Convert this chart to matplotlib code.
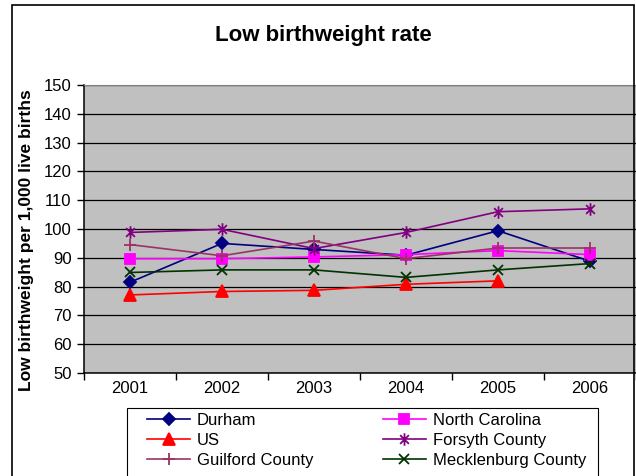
import matplotlib
matplotlib.use("Agg")
import matplotlib.pyplot as plt
from matplotlib.path import Path
from matplotlib.patches import Rectangle

plt.rcParams['font.family'] = ['Liberation Sans', 'DejaVu Sans']

# データ
years = ["2001", "2002", "2003", "2004", "2005", "2006"]
durham = [81.5, 95.0, 92.9, 90.9, 99.4, 88.8]
north_carolina = [89.7, 89.7, 90.3, 91.1, 92.5, 91.1]
us = [77.1, 78.3, 78.7, 80.8, 82.0, None]
forsyth = [98.8, 99.9, 93.2, 98.8, 106.0, 107.0]
guilford = [94.6, 90.7, 95.8, 89.7, 93.4, 93.4]
mecklenburg = [84.9, 85.8, 85.8, 83.2, 85.8, 88.0]
y_ticks = list(range(50, 151, 10))

# Excel風のアスタリスク(×+縦線)
star = Path([(0, -1), (0, 1), (-0.7, -0.7), (0.7, 0.7), (-0.7, 0.7), (0.7, -0.7)],
            [Path.MOVETO, Path.LINETO] * 3)

series = [
    ("Durham", durham, "#000080", "D", 6),
    ("North Carolina", north_carolina, "#FF00FF", "s", 6.5),
    ("US", us, "#FF0000", "^", 8),
    ("Forsyth County", forsyth, "#800080", star, 9),
    ("Guilford County", guilford, "#993366", "+", 9),
    ("Mecklenburg County", mecklenburg, "#003300", "x", 7),
]

fig = plt.figure(figsize=(6.36, 4.76), dpi=100)
ax = fig.add_axes([84 / 636, 1 - 373 / 476, 552 / 636, 288 / 476])
ax.set_facecolor("#C0C0C0")

x = list(range(len(years)))
for name, vals, color, marker, ms in series:
    xs = [xi for xi, v in zip(x, vals) if v is not None]
    ys = [v for v in vals if v is not None]
    ax.plot(xs, ys, color=color, linewidth=1.2, marker=marker, markersize=ms,
            markeredgewidth=1.3, markerfacecolor=color, markeredgecolor=color,
            label=name, zorder=3)

ax.set_ylim(50, 150)
ax.set_yticks(y_ticks)
ax.set_xlim(-0.5, len(years) - 0.5)
ax.set_xticks([i - 0.5 for i in range(len(years) + 1)])
ax.set_xticklabels([])
ax.set_xticks(x, minor=True)
ax.set_xticklabels(years, minor=True, fontsize=12)
ax.tick_params(axis="x", which="major", direction="out", length=5, width=1)
ax.tick_params(axis="x", which="minor", length=0, pad=6)
ax.tick_params(axis="y", direction="out", length=5, width=1, labelsize=12, pad=4)

ax.grid(True, axis="y", color="black", linewidth=0.9)
for side in ["top", "right"]:
    ax.spines[side].set_color("#808080")
for side in ["left", "bottom"]:
    ax.spines[side].set_linewidth(1.1)

ax.set_ylabel("Low birthweight per 1,000 live births", fontsize=12.5, fontweight="bold")
ax.yaxis.set_label_coords(-0.09, 0.462)

fig.text(323 / 636, 1 - 35 / 476, "Low birthweight rate", ha="center", va="center",
         fontsize=16, fontweight="bold")

# 凡例(2列、行方向に並べる)
handles, labels = ax.get_legend_handles_labels()
order = [0, 2, 4, 1, 3, 5]
leg = fig.legend([handles[i] for i in order], [labels[i] for i in order],
                 ncol=2, loc="upper left",
                 bbox_to_anchor=(147 / 636, 1 - 413 / 476),
                 bbox_transform=fig.transFigure,
                 fontsize=12, frameon=False, handlelength=2.6,
                 handletextpad=0.4, labelspacing=0.3, borderpad=0,
                 columnspacing=4.15, borderaxespad=0)

# 凡例の枠
fig.patches.append(Rectangle((127 / 636, -0.02), 471 / 636, 0.02 + 1 - 408 / 476,
                             transform=fig.transFigure, fill=False,
                             edgecolor="black", linewidth=0.8))

# 外枠
fig.patches.append(Rectangle((12 / 636, -0.02), 622 / 636, 1.02 - 5 / 476,
                             transform=fig.transFigure, fill=False,
                             edgecolor="black", linewidth=1.2))

fig.savefig("out.png", dpi=100)
